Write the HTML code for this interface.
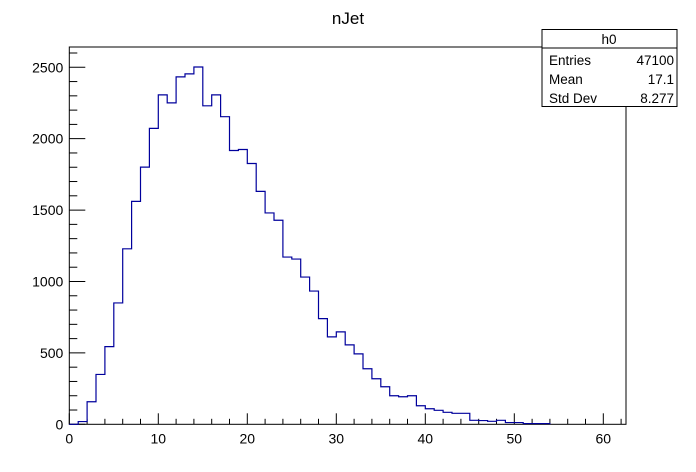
<!DOCTYPE html>
<html><head><meta charset="utf-8"><style>
body{margin:0;background:#fff;}
svg{display:block;font-family:"Liberation Sans",sans-serif;}
</style></head><body>
<svg id="c" width="696" height="472">
<rect width="696" height="472" fill="#fff"/>
<text x="348" y="24" font-size="17" text-anchor="middle">nJet</text>
<g id="axes"></g>
<path id="hist" fill="none" stroke="#00009c" stroke-width="1.2"/>
<g>
<rect x="542" y="29.5" width="135" height="77" fill="#fff" stroke="#000" stroke-width="1"/>
<line x1="542" y1="48" x2="677" y2="48" stroke="#000"/>
<text x="609" y="44" font-size="13.5" text-anchor="middle">h0</text>
<text x="549" y="65" font-size="13.5">Entries</text><text x="674" y="65" font-size="13.5" text-anchor="end">47100</text>
<text x="549" y="84" font-size="13.5">Mean</text><text x="674" y="84" font-size="13.5" text-anchor="end">17.1</text>
<text x="549" y="103" font-size="13.5">Std Dev</text><text x="674" y="103" font-size="13.5" text-anchor="end">8.277</text>
</g>
</svg>
<script>
const binStart = 0;
const binWidth = 1;
const counts = [0,19,158,349,544,850,1229,1561,1801,2072,2307,2251,2433,2454,2502,2230,2307,2154,1917,1924,1826,1631,1480,1429,1171,1157,1031,933,740,612,647,556,493,389,319,263,200,193,200,130,109,98,84,77,77,28,26,21,28,12,12,5,5,5];
const xTicks = [0,10,20,30,40,50,60];
const yTicks = [0,500,1000,1500,2000,2500];
const xMin=0, xMax=62.55, yMin=0, yMax=2642;
const L=69.3, R=626, T=47, B=424.3;
const sx=v=>L+(v-xMin)/(xMax-xMin)*(R-L);
const sy=v=>B-(v-yMin)/(yMax-yMin)*(B-T);
const NS="http://www.w3.org/2000/svg";
const ax=document.getElementById('axes');
function el(t,a,p){const e=document.createElementNS(NS,t);for(const k in a)e.setAttribute(k,a[k]);(p||ax).appendChild(e);return e;}
const fr=el('rect',{x:L,y:T,width:R-L,height:B-T,fill:'none',stroke:'#000','stroke-width':1});


for(let v=0;v<=xMax;v+=2){const major=v%10===0;el('line',{x1:sx(v),x2:sx(v),y1:B,y2:B-(major?11:5.5),stroke:'#000'});}
xTicks.forEach(v=>{const t=el('text',{x:sx(v),y:B+19,'font-size':14,'text-anchor':'middle'});t.textContent=v;

});
for(let v=0;v<=yMax;v+=100){const major=v%500===0;el('line',{x1:L,x2:L+(major?16:8),y1:sy(v),y2:sy(v),stroke:'#000'});}
yTicks.forEach(v=>{const t=el('text',{x:L-6,y:sy(v)+5,'font-size':14,'text-anchor':'end'});t.textContent=v;

});
let d='M'+sx(binStart)+','+sy(0);
counts.forEach((c,i)=>{const x0=binStart+i*binWidth;d+=' L'+sx(x0)+','+sy(c)+' L'+sx(x0+binWidth)+','+sy(c);});
d+=' L'+sx(binStart+counts.length*binWidth)+','+sy(0);
document.getElementById('hist').setAttribute('d',d);
</script>
</body></html>
